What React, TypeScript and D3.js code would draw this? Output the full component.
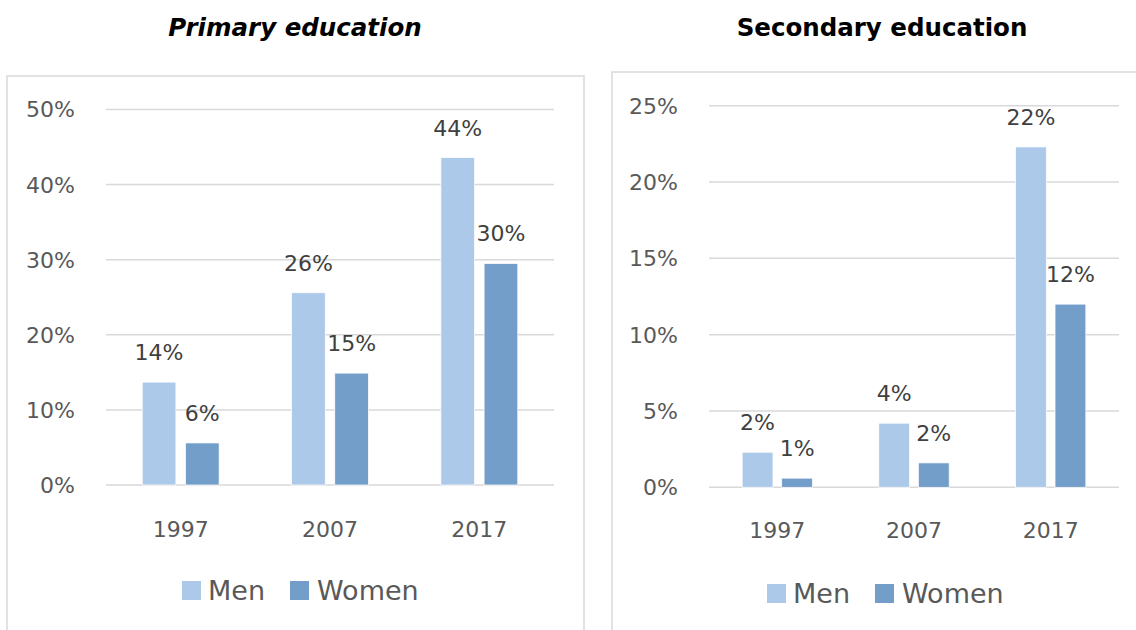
import React from 'react';
import * as d3 from 'd3';

const years = ['1997', '2007', '2017'];
const seriesNames = ['Men', 'Women'];
const primaryMen = [0.137, 0.256, 0.436];
const primaryWomen = [0.056, 0.149, 0.295];
const secondaryMen = [0.023, 0.042, 0.223];
const secondaryWomen = [0.006, 0.016, 0.12];
const primaryTicks = [0, 0.1, 0.2, 0.3, 0.4, 0.5];
const secondaryTicks = [0, 0.05, 0.1, 0.15, 0.2, 0.25];

const colors = { Men: '#adc9e9', Women: '#739ec9' };
const FONT = '"DejaVu Sans", "Noto Sans", sans-serif';
const pct = d3.format('.0%');

type PanelProps = {
    title: string;
    italic: boolean;
    titleX: number;
    frame: { x: number; y: number; w: number; h: number };
    x0: number; x1: number; yTop: number; yBottom: number;
    ticks: number[];
    men: number[];
    women: number[];
    labelRight: number;
    catY: number;
    legendX: number;
    legendY: number;
};

function Panel(p: PanelProps) {
    const yMax = p.ticks[p.ticks.length - 1];
    const y = d3.scaleLinear().domain([0, yMax]).range([p.yBottom, p.yTop]);
    const xOuter = d3.scaleBand().domain(years).range([p.x0, p.x1]).paddingInner(0.485).paddingOuter(0.2425);
    const xInner = d3.scaleBand().domain(seriesNames).range([0, xOuter.bandwidth()]).paddingInner(0.22);
    const rows = years.map((yr, i) => ({ yr, vals: [p.men[i], p.women[i]] }));

    return (
        <g>
            <path d={`M${p.frame.x},${p.frame.y + p.frame.h} V${p.frame.y} H${p.frame.x + p.frame.w} V${p.frame.y + p.frame.h}`}
                fill="none" stroke="#d9d9d9" strokeWidth={1.5} />
            <text x={p.titleX} y={36} textAnchor="middle" fontFamily={FONT} fontWeight="bold"
                fontStyle={p.italic ? 'italic' : 'normal'} fontSize={24.5} fill="#000">{p.title}</text>
            {p.ticks.map(t => (
                <g key={t}>
                    <line x1={p.x0} x2={p.x1} y1={y(t)} y2={y(t)} stroke="#d9d9d9" strokeWidth={1.5} />
                    <text x={p.labelRight} y={y(t)} dy="0.36em" textAnchor="end" fontFamily={FONT}
                        fontSize={22} fill="#595959">{pct(t)}</text>
                </g>
            ))}
            {rows.map(r => (
                <g key={r.yr} transform={`translate(${xOuter(r.yr)},0)`}>
                    {r.vals.map((v, j) => {
                        const s = seriesNames[j];
                        const bx = xInner(s)!;
                        return (
                            <g key={s}>
                                <rect x={bx} y={y(v)} width={xInner.bandwidth()} height={y(0) - y(v)}
                                    fill={colors[s as 'Men' | 'Women']} stroke="#fff" strokeWidth={0.75} />
                                <text x={bx + xInner.bandwidth() / 2} y={y(v) - 22} textAnchor="middle"
                                    fontFamily={FONT} fontSize={22} fill="#404040">{pct(v)}</text>
                            </g>
                        );
                    })}
                    <text x={xOuter.bandwidth() / 2} y={p.catY} textAnchor="middle" fontFamily={FONT}
                        fontSize={22} fill="#595959">{r.yr}</text>
                </g>
            ))}
            <g transform={`translate(${p.legendX},${p.legendY})`}>
                <rect x={0} y={0} width={19} height={19} fill={colors.Men} />
                <text x={26} y={19} fontFamily={FONT} fontSize={27} fill="#595959">Men</text>
                <rect x={108} y={0} width={19} height={19} fill={colors.Women} />
                <text x={135} y={19} fontFamily={FONT} fontSize={27} fill="#595959">Women</text>
            </g>
        </g>
    );
}

export default function App() {
    return (
        <div style={{ position: 'absolute', left: 0, top: 0 }}>
            <svg width={1136} height={630} style={{ display: 'block', background: '#fff' }}>
                <Panel title="Primary education" italic={true} titleX={295}
                    frame={{ x: 7, y: 76, w: 577, h: 560 }}
                    x0={106} x1={554} yTop={109.5} yBottom={485}
                    ticks={primaryTicks} men={primaryMen} women={primaryWomen}
                    labelRight={75} catY={537} legendX={182} legendY={581} />
                <Panel title="Secondary education" italic={false} titleX={882}
                    frame={{ x: 612, y: 72, w: 530, h: 570 }}
                    x0={709} x1={1119} yTop={105.7} yBottom={487.3}
                    ticks={secondaryTicks} men={secondaryMen} women={secondaryWomen}
                    labelRight={678} catY={538} legendX={767} legendY={584} />
            </svg>
        </div>
    );
}
